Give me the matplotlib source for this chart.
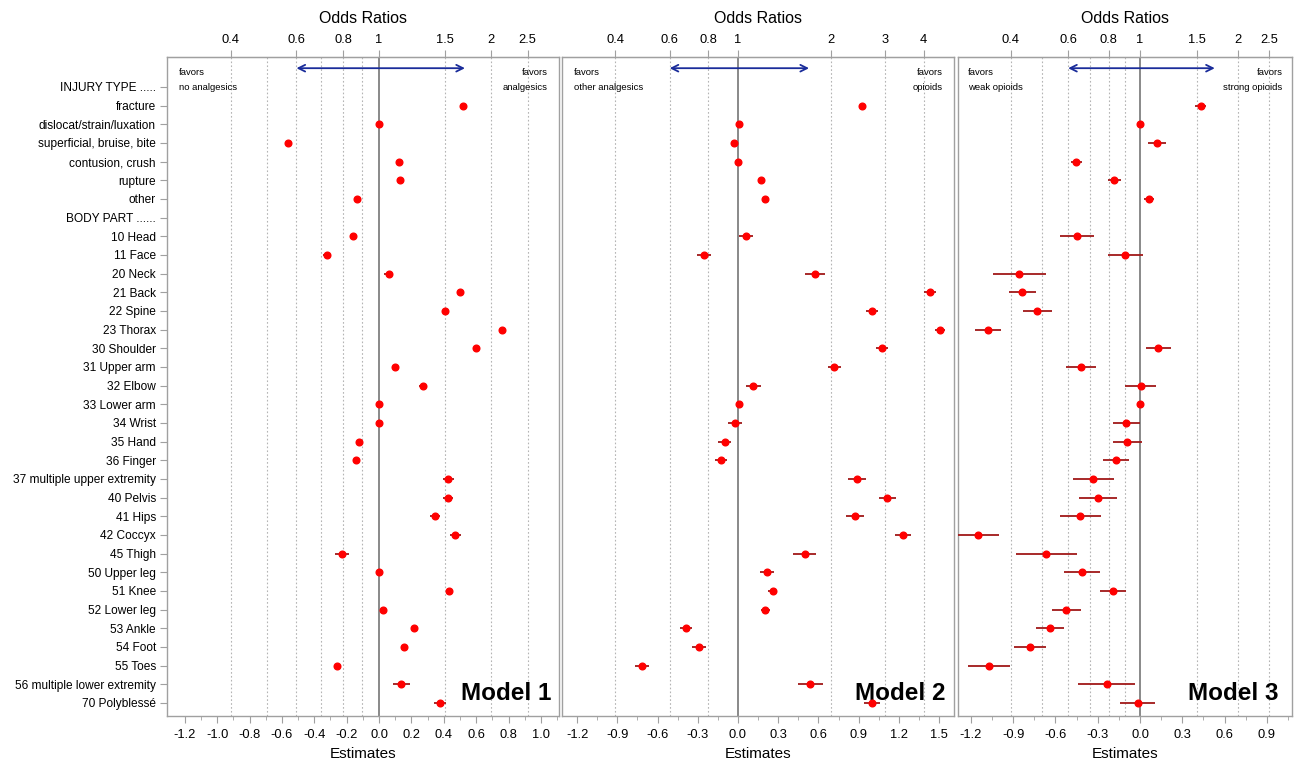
import numpy as np
import matplotlib
matplotlib.use("Agg")
import matplotlib.pyplot as plt

plt.rcParams['font.family'] = ['Liberation Sans', 'DejaVu Sans']
plt.rcParams['axes.unicode_minus'] = False

# row labels, top to bottom
rows = ['INJURY TYPE .....', 'fracture', 'dislocat/strain/luxation', 'superficial, bruise, bite',
        'contusion, crush', 'rupture', 'other', 'BODY PART ......',
        '10 Head', '11 Face', '20 Neck', '21 Back', '22 Spine', '23 Thorax', '30 Shoulder',
        '31 Upper arm', '32 Elbow', '33 Lower arm', '34 Wrist', '35 Hand', '36 Finger',
        '37 multiple upper extremity', '40 Pelvis', '41 Hips', '42 Coccyx', '45 Thigh',
        '50 Upper leg', '51 Knee', '52 Lower leg', '53 Ankle', '54 Foot', '55 Toes',
        '56 multiple lower extremity', '70 Polyblessé']

nan = np.nan
# Model 1: no analgesics vs analgesics
est1 = [nan, 0.52, 0.00, -0.56, 0.12, 0.13, -0.135, nan,
        -0.16, -0.32, 0.06, 0.50, 0.405, 0.76, 0.60, 0.10, 0.27, 0.00, 0.00, -0.125, -0.145,
        0.427, 0.427, 0.346, 0.47, -0.228, 0.00, 0.434, 0.026, 0.218, 0.156, -0.258,
        0.138, 0.377]
ci1 = [nan, 0.012, 0.005, 0.012, 0.012, 0.012, 0.015, nan,
       0.018, 0.025, 0.028, 0.018, 0.015, 0.02, 0.022, 0.018, 0.025, 0.008, 0.01, 0.02, 0.018,
       0.035, 0.032, 0.03, 0.035, 0.045, 0.01, 0.015, 0.015, 0.015, 0.018, 0.02,
       0.05, 0.035]
# Model 2: other analgesics vs opioids
est2 = [nan, 0.923, 0.005, -0.03, -0.002, 0.174, 0.204, nan,
        0.06, -0.254, 0.575, 1.435, 1.00, 1.507, 1.075, 0.719, 0.114, 0.005, -0.022, -0.10, -0.124,
        0.888, 1.114, 0.873, 1.229, 0.498, 0.216, 0.259, 0.204, -0.386, -0.291, -0.716,
        0.54, 1.00]
ci2 = [nan, 0.02, 0.01, 0.025, 0.015, 0.02, 0.02, nan,
       0.055, 0.055, 0.072, 0.045, 0.045, 0.04, 0.045, 0.05, 0.055, 0.01, 0.05, 0.05, 0.045,
       0.065, 0.065, 0.065, 0.06, 0.085, 0.055, 0.035, 0.035, 0.045, 0.05, 0.055,
       0.095, 0.06]
# Model 3: weak opioids vs strong opioids
est3 = [nan, 0.43, 0.00, 0.123, -0.451, -0.182, 0.064, nan,
        -0.445, -0.104, -0.856, -0.835, -0.728, -1.08, 0.13, -0.416, 0.005, 0.00, -0.097, -0.09, -0.172,
        -0.331, -0.298, -0.423, -1.151, -0.664, -0.411, -0.189, -0.523, -0.64, -0.782, -1.073,
        -0.236, -0.016]
ci3 = [nan, 0.038, 0.01, 0.064, 0.04, 0.047, 0.035, nan,
       0.12, 0.124, 0.186, 0.095, 0.104, 0.091, 0.091, 0.106, 0.11, 0.01, 0.094, 0.105, 0.092,
       0.145, 0.132, 0.147, 0.147, 0.216, 0.128, 0.092, 0.101, 0.099, 0.112, 0.149,
       0.203, 0.123]

panels = [
    dict(est=est1, ci=ci1, xlim=(-1.309, 1.111), ticks=np.arange(-1.2, 1.01, 0.2), minor=0.1,
         or_ticks=[0.4, 0.6, 0.8, 1, 1.5, 2, 2.5], or_grid=[0.4, 0.5, 0.6, 0.7, 0.8, 0.9, 1.5, 2, 2.5],
         left=('favors', 'no analgesics'), right=('favors', 'analgesics'), name='Model 1', mx=0.98),
    dict(est=est2, ci=ci2, xlim=(-1.313, 1.612), ticks=np.arange(-1.2, 1.51, 0.3), minor=0.15,
         or_ticks=[0.4, 0.6, 0.8, 1, 2, 3, 4], or_grid=[0.4, 0.6, 0.8, 2, 3, 4],
         left=('favors', 'other analgesics'), right=('favors', 'opioids'), name='Model 2', mx=0.977),
    dict(est=est3, ci=ci3, xlim=(-1.291, 1.078), ticks=np.arange(-1.2, 0.91, 0.3), minor=0.15,
         or_ticks=[0.4, 0.6, 0.8, 1, 1.5, 2, 2.5], or_grid=[0.4, 0.5, 0.6, 0.7, 0.8, 0.9, 1.5, 2, 2.5],
         left=('favors', 'weak opioids'), right=('favors', 'strong opioids'), name='Model 3', mx=0.958),
]
positions = [[0.1287, 0.0628, 0.3020, 0.8626],
             [0.4330, 0.0628, 0.3020, 0.8626],
             [0.7381, 0.0628, 0.2573, 0.8626]]

fig = plt.figure(figsize=(12.98, 7.64), dpi=100)
y = np.arange(len(rows))
edge = '#a0a0a0'

for i, (p, pos) in enumerate(zip(panels, positions)):
    ax = fig.add_axes(pos)
    for g in p['or_grid']:
        ax.axvline(np.log(g), color='#b4b4b4', lw=0.8, ls=(0, (1.5, 2)), zorder=1)
    ax.axvline(0, color='#808080', lw=1.3, zorder=1)
    ax.errorbar(p['est'], y, xerr=p['ci'], fmt='o', color='red', ms=4.8,
                ecolor='#a01818', elinewidth=1.3, capsize=0, zorder=3)
    ax.set_xlim(p['xlim'])
    ax.set_ylim(33.7, -1.6)
    ticks = np.round(p['ticks'], 1)
    ax.set_xticks(ticks)
    ax.set_xticklabels([('%.1f' % t).replace('-0.0', '0.0') for t in ticks])
    ax.set_xticks(np.arange(-1.2, p['xlim'][1], p['minor']), minor=True)
    ax.tick_params(axis='x', which='major', length=5, color=edge, labelsize=9.3, pad=4)
    ax.tick_params(axis='x', which='minor', length=3, color=edge)
    ax.set_xlabel('Estimates', fontsize=11, labelpad=5)
    for s in ax.spines.values():
        s.set_color(edge)
        s.set_linewidth(1.0)
    if i == 0:
        ax.set_yticks(y)
        ax.set_yticklabels(rows, fontsize=8.6)
        ax.tick_params(axis='y', length=5, color=edge, pad=3)
    else:
        ax.set_yticks([])

    top = ax.secondary_xaxis('top', functions=(np.exp, np.log))
    top.set_xticks(p['or_ticks'])
    top.set_xticklabels(['%g' % t for t in p['or_ticks']])
    top.tick_params(length=5, color=edge, labelsize=9.3, pad=3)
    top.spines['top'].set_color(edge)
    top.set_xlabel('Odds Ratios', fontsize=11.5, labelpad=8)

    ax.annotate('', xy=(0.53, -1.0), xytext=(-0.51, -1.0),
                arrowprops=dict(arrowstyle='<->', color='#1a2c9a', lw=1.3,
                                shrinkA=0, shrinkB=0, mutation_scale=12))
    ax.text(0.03, 0.977, p['left'][0], transform=ax.transAxes, fontsize=6.8, va='center', ha='left')
    ax.text(0.03, 0.954, p['left'][1], transform=ax.transAxes, fontsize=6.8, va='center', ha='left')
    ax.text(0.972, 0.977, p['right'][0], transform=ax.transAxes, fontsize=6.8, va='center', ha='right')
    ax.text(0.972, 0.954, p['right'][1], transform=ax.transAxes, fontsize=6.8, va='center', ha='right')
    ax.text(p['mx'], 0.016, p['name'], transform=ax.transAxes, fontsize=17.5, fontweight='bold',
            ha='right', va='bottom')

fig.savefig('out.png', dpi=100)
